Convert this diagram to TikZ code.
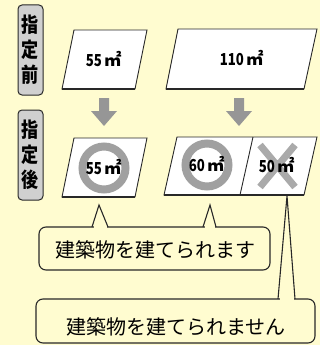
\documentclass[tikz,border=0pt]{standalone}
\usepackage{fontspec}
\usepackage{graphicx}
\newfontfamily\jp{Noto Sans CJK JP}
\definecolor{bg}{RGB}{255,252,208}
\definecolor{ink}{RGB}{40,40,40}
\definecolor{ring}{RGB}{160,160,160}
\definecolor{crossgray}{RGB}{170,170,170}
\definecolor{arrowgray}{RGB}{150,150,150}
\definecolor{labelgray}{RGB}{208,208,208}
\newcommand{\areatxt}[1]{\scalebox{0.8}[1]{#1}\hspace{3pt}\raisebox{-0.5pt}{\scalebox{1.05}{㎡}}}
\tikzset{
  labelbox/.style={draw=ink, line width=1pt, fill=labelgray, rounded corners=4pt,
    minimum width=25pt, minimum height=90pt, inner sep=0pt, align=center,
    font=\jp\bfseries\fontsize{19}{25}\selectfont},
  plot/.style={draw=ink, line width=0.9pt, fill=white, line join=miter},
  shadowedge/.style={draw=ink, line width=1.8pt},
  area/.style={font=\jp\bfseries\fontsize{16.5}{18}\selectfont, inner sep=0pt},
  callout/.style={draw=ink, line width=1.1pt, rounded corners=7pt},
  calltext/.style={font=\jp\fontsize{20}{22}\selectfont, inner sep=0pt},
  tail/.style={draw=ink, line width=1.1pt, line join=miter},
  blockarrow/.style={fill=arrowgray}
}
\begin{document}
\begin{tikzpicture}[x=1pt,y=-1pt]
\fill[bg] (0,0) rectangle (320,345);
\useasboundingbox (0,0) rectangle (320,345);

% side labels
\node[labelbox] (pre) at (30.5,50) {\scalebox{0.9}[1.08]{指}\\\scalebox{0.9}[1.08]{定}\\\scalebox{0.9}[1.08]{前}};
\node[labelbox] (post) at (30.5,155) {\scalebox{0.9}[1.08]{指}\\\scalebox{0.9}[1.08]{定}\\\scalebox{0.9}[1.08]{後}};

% before: parcels
\draw[plot] (74,30) -- (147,30) -- (135,89) -- (62,89) -- cycle;
\draw[shadowedge] (62,89) -- (135,89);
\node[area] (a55) at (104,59) {\areatxt{55}};
\draw[plot] (178,29) -- (317,29) -- (304,89) -- (166,89) -- cycle;
\draw[shadowedge] (166,89) -- (304,89);
\node[area] (a110) at (242,58) {\areatxt{110}};

% arrows
\fill[blockarrow] (99,98) -- (109,98) -- (109,111) -- (117,111) -- (104,126) -- (91,111) -- (99,111) -- cycle;
\fill[blockarrow] (234,98) -- (244,98) -- (244,111) -- (252,111) -- (239,126) -- (226,111) -- (234,111) -- cycle;

% after: parcels
\draw[plot] (74,138) -- (147,138) -- (135,197) -- (62,197) -- cycle;
\draw[shadowedge] (62,197) -- (135,197);
\draw[ring, line width=8pt] (104,168) circle (21.5);
\node[area] (b55) at (104,167) {\areatxt{55}};

\draw[plot] (177,137) -- (317,137) -- (304,195) -- (164,195) -- cycle;
\draw[shadowedge] (164,195) -- (304,195);
\draw[ink, line width=0.9pt] (253,137) -- (240,195);
\draw[ring, line width=8pt] (207,165) circle (21.5);
\node[area] (b60) at (207,164) {\areatxt{60}};
\draw[crossgray, line width=7pt] (260,145) -- (295,187) (295,145) -- (260,187);
\node[area] (b50) at (277,165) {\areatxt{50}};

% callout 1
\draw[callout] (39,227) rectangle (270,270);
\fill[bg] (93.5,225) rectangle (106.5,229);
\fill[bg] (204.5,225) rectangle (214.5,229);
\coordinate (t1) at (99,205);
\coordinate (t2) at (210,205);
\draw[tail] (92,227) -- (t1) -- (108,227);
\draw[tail] (203,227) -- (t2) -- (216,227);
\node[calltext] (ok) at (155,250) {建築物を建てられます};

% callout 2
\draw[callout] (36,299) rectangle (315,343);
\fill[bg] (279.5,297) rectangle (294,301);
\coordinate (t3) at (287,196);
\draw[tail] (278,299) -- (t3) -- (295,299);
\node[calltext] (ng) at (176,327) {建築物を建てられません};
\end{tikzpicture}
\end{document}
